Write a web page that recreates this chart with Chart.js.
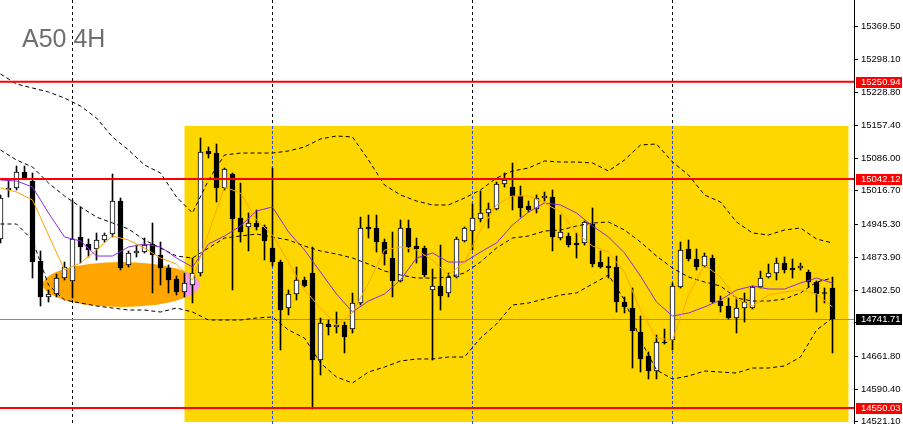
<!DOCTYPE html>
<html lang="en">
<head>
<meta charset="UTF-8">
<title>A50 4H</title>
<script src="https://cdn.jsdelivr.net/npm/chart.js"></script>
<style>
  html, body { margin: 0; padding: 0; background: #fff; }
  .chart-container { position: relative; width: 903px; height: 424px; }
</style>
</head>
<body>
<div class="chart-container"><canvas id="a50Chart" width="903" height="424"></canvas></div>
<script>
// 4H bars, oldest first
const opens = [
  14913.2, 15018.5, 15022.7, 15057.1, 15037.8, 14865.9, 14788.6, 14795.0, 14829.3, 14822.9,
  14917.5, 14902.4, 14891.7, 14911.0, 14923.9, 14994.8, 14857.3, 14883.1, 14885.2, 14902.4,
  14878.8, 14850.8, 14827.2, 14799.3, 14814.4, 14840.1, 15102.3, 15097.9, 15022.7, 15052.8,
  14958.3, 14939.0, 14947.6, 14939.0, 14893.8, 14863.7, 14764.9, 14795.0, 14825.1, 14840.1,
  14653.2, 14730.5, 14724.1, 14728.4, 14719.8, 14775.7, 14939.0, 14936.8, 14906.7, 14872.3,
  14822.9, 14936.8, 14898.1, 14893.8, 14803.6, 14812.2, 14797.2, 14831.5, 14908.9, 14930.4,
  14956.2, 14969.1, 14977.6, 15031.3, 15024.9, 15005.6, 14984.1, 14977.6, 15001.3, 15003.5,
  14915.3, 14919.6, 14904.6, 14904.6, 14945.4, 14863.7, 14855.1, 14853.0, 14777.8, 14764.9,
  14713.3, 14661.8, 14629.5, 14691.8, 14696.1, 14810.1, 14891.7, 14870.2, 14855.1, 14872.3,
  14780.0, 14769.2, 14743.4, 14764.9, 14764.9, 14810.1, 14831.5, 14840.1, 14861.6, 14850.8,
  14850.8, 14842.2, 14820.8, 14797.2, 14807.9
];
const highs = [
  15007.8, 15039.9, 15070.0, 15070.0, 15055.0, 14887.4, 14803.6, 14837.9, 14863.7, 14997.0,
  14982.0, 14913.2, 14926.1, 14926.1, 15052.8, 15001.3, 14887.4, 14900.3, 14915.3, 14947.6,
  14906.7, 14857.3, 14833.6, 14840.1, 14872.3, 15130.2, 15110.9, 15117.3, 15065.7, 15055.0,
  15033.5, 14969.1, 14975.5, 14943.3, 15065.7, 14868.0, 14803.6, 14853.0, 14831.5, 14896.0,
  14743.4, 14739.1, 14756.3, 14734.8, 14797.2, 14960.4, 14964.8, 14964.8, 14913.2, 14928.2,
  14954.0, 14954.0, 14915.3, 14898.1, 14848.7, 14900.3, 14840.1, 14917.5, 14939.0, 14988.4,
  15016.3, 14990.5, 15035.6, 15055.0, 15076.5, 15027.0, 14994.8, 15007.8, 15014.1, 15018.5,
  14964.8, 14926.1, 14926.1, 14951.8, 14979.8, 14887.4, 14874.5, 14876.6, 14788.6, 14807.9,
  14747.7, 14670.4, 14706.9, 14719.8, 14818.6, 14906.7, 14911.0, 14891.7, 14883.1, 14878.8,
  14790.7, 14786.4, 14786.4, 14797.2, 14812.2, 14844.4, 14859.4, 14872.3, 14874.5, 14870.2,
  14861.6, 14846.5, 14822.9, 14807.9, 14831.5
];
const lows = [
  14904.6, 15003.5, 15018.5, 15042.1, 14829.3, 14769.2, 14777.8, 14788.6, 14825.1, 14786.4,
  14861.6, 14874.5, 14868.0, 14906.7, 14917.5, 14846.5, 14853.0, 14874.5, 14883.1, 14797.2,
  14814.4, 14797.2, 14792.9, 14788.6, 14775.7, 14833.6, 15087.2, 14992.7, 15018.5, 14803.6,
  14906.7, 14887.4, 14932.5, 14868.0, 14855.1, 14674.7, 14749.9, 14782.1, 14810.1, 14547.9,
  14621.0, 14706.9, 14711.2, 14668.2, 14711.2, 14771.4, 14915.3, 14885.2, 14857.3, 14788.6,
  14820.8, 14885.2, 14861.6, 14831.5, 14653.2, 14760.6, 14788.6, 14829.3, 14906.7, 14889.5,
  14949.7, 14936.8, 14975.5, 15024.9, 14975.5, 14960.4, 14971.2, 14969.1, 14994.8, 14887.4,
  14911.0, 14896.0, 14872.3, 14900.3, 14853.0, 14850.8, 14829.3, 14756.3, 14754.2, 14636.0,
  14627.4, 14612.4, 14612.4, 14687.5, 14674.7, 14807.9, 14865.9, 14846.5, 14853.0, 14775.7,
  14756.3, 14741.3, 14711.2, 14734.8, 14762.8, 14807.9, 14829.3, 14825.1, 14840.1, 14829.3,
  14846.5, 14810.1, 14756.3, 14775.7, 14668.2
];
const closes = [
  15001.3, 15022.7, 15057.1, 15044.2, 14863.7, 14788.6, 14795.0, 14829.3, 14853.0, 14913.2,
  14896.0, 14889.5, 14911.0, 14921.8, 14994.8, 14850.8, 14883.1, 14887.4, 14900.3, 14878.8,
  14850.8, 14825.1, 14799.3, 14818.7, 14840.1, 15100.1, 15095.8, 15022.7, 15063.6, 14956.2,
  14928.2, 14947.6, 14939.0, 14908.9, 14863.7, 14760.6, 14795.0, 14825.1, 14812.2, 14653.2,
  14732.7, 14724.1, 14728.4, 14702.6, 14775.7, 14936.8, 14934.7, 14906.7, 14881.0, 14822.9,
  14936.8, 14896.0, 14891.7, 14835.8, 14812.2, 14790.7, 14831.5, 14913.2, 14936.8, 14958.3,
  14969.1, 14977.6, 15031.3, 15039.9, 15005.6, 14979.8, 14975.5, 15001.3, 15005.6, 14917.5,
  14928.2, 14900.3, 14900.3, 14949.7, 14859.4, 14853.0, 14850.8, 14777.8, 14767.1, 14715.5,
  14655.4, 14629.5, 14691.8, 14689.7, 14812.2, 14889.5, 14870.2, 14853.0, 14876.6, 14777.8,
  14769.2, 14743.4, 14764.9, 14777.8, 14810.1, 14829.3, 14840.1, 14861.6, 14846.5, 14846.5,
  14855.1, 14820.8, 14795.0, 14796.0, 14741.71
];

// indicator values read every 2nd bar, starting at bar 0
const lineStep = 2;
const bbUpper = [
  15267.7, 15246.2, 15237.6, 15229.0, 15216.1, 15198.9, 15173.1, 15132.4, 15104.4, 15072.2,
  15055.0, 15003.5, 14969.1, 15039.9, 15093.7, 15097.9, 15097.9, 15097.9, 15102.3, 15110.9,
  15128.1, 15134.5, 15132.4, 15082.9, 15029.2, 15007.8, 14994.8, 14986.3, 14986.3, 15001.3,
  15018.5, 15044.2, 15059.3, 15065.7, 15080.8, 15078.6, 15078.6, 15076.5, 15059.3, 15082.9,
  15115.2, 15117.3, 15078.6, 15050.7, 15007.8, 14992.7, 14949.7, 14926.1, 14921.8, 14932.5,
  14936.8, 14913.2, 14904.6
];
const bbMiddle = [
  15104.4, 15082.9, 15067.9, 15033.5, 15005.6, 14982.0, 14960.4, 14947.6, 14934.7, 14911.0,
  14893.8, 14876.6, 14872.3, 14893.8, 14915.3, 14919.6, 14923.9, 14917.5, 14911.0, 14898.1,
  14887.4, 14880.9, 14872.3, 14859.4, 14844.4, 14835.8, 14829.3, 14829.3, 14831.5, 14840.1,
  14863.7, 14893.8, 14915.3, 14919.6, 14930.4, 14932.5, 14941.1, 14947.6, 14949.7, 14932.5,
  14906.7, 14876.6, 14850.8, 14831.5, 14820.8, 14812.2, 14786.4, 14780.0, 14780.0, 14784.3,
  14797.2, 14820.8, 14829.3
];
const bbLower = [
  14945.4, 14945.4, 14911.0, 14814.4, 14782.1, 14775.7, 14769.2, 14764.9, 14760.6, 14760.6,
  14756.3, 14764.9, 14756.3, 14739.1, 14739.1, 14739.1, 14743.4, 14745.6, 14717.6, 14700.4,
  14646.8, 14616.6, 14603.8, 14627.4, 14638.1, 14651.0, 14655.4, 14655.4, 14659.6, 14659.6,
  14700.4, 14730.5, 14771.4, 14775.7, 14784.3, 14792.9, 14797.2, 14816.5, 14835.8, 14782.1,
  14696.1, 14631.7, 14612.4, 14618.8, 14629.5, 14627.4, 14625.2, 14636.0, 14636.0, 14640.3,
  14659.6, 14717.6, 14743.4
];
const maSlow = [
  15039.9, 15037.8, 15024.9, 14969.1, 14917.5, 14908.9, 14876.6, 14876.6, 14896.0, 14902.4,
  14896.0, 14872.3, 14853.0, 14902.4, 14919.6, 14941.1, 14973.4, 14982.0, 14928.2, 14889.5,
  14842.2, 14795.0, 14756.3, 14780.0, 14795.0, 14825.1, 14872.3, 14883.1, 14863.7, 14863.7,
  14885.2, 14904.6, 14943.3, 14971.2, 14990.5, 14986.3, 14969.1, 14941.1, 14917.5, 14883.1,
  14833.6, 14777.8, 14747.7, 14754.2, 14767.1, 14782.1, 14803.6, 14812.2, 14805.7, 14805.7,
  14818.6, 14829.3, 14818.6
];
const maFast = [
  15022.7, 15014.2, 14997.0, 14921.8, 14846.5, 14861.6, 14889.5, 14919.6, 14911.0, 14893.8,
  14872.3, 14859.4, 14825.1, 14926.1, 15024.9, 15012.0, 14954.0, 14921.8, 14863.7, 14803.6,
  14764.9, 14728.4, 14754.2, 14818.6, 14889.5, 14896.0, 14889.5, 14868.0, 14835.8, 14863.7,
  14932.5, 14986.3, 15005.6, 15005.6, 14990.5, 14971.2, 14926.1, 14898.1, 14885.2, 14842.2,
  14760.6, 14700.4, 14696.1, 14792.9, 14857.3, 14831.5, 14784.3, 14769.2, 14792.9, 14799.3,
  14803.6, 14795.0, 14767.1
];

const tickLabels = ['15369.50', '15298.10', '15228.80', '15157.40', '15086.00', '15016.70', '14945.30',
  '14873.90', '14802.50', '14733.10', '14661.80', '14590.40', '14521.10'];
const levels = [15250.94, 15042.12, 14550.03];
const bidPrice = 14741.71;
const separatorBars = [9, 34, 59, 84];
const zoneBars = [23, 106];
const zonePrices = [15156.0, 14519.9];
const ellipseBars = [5.3, 24.9];
const ellipsePrices = [14863.7, 14767.1];

const xMin = -0.0625, xMax = 106.6875;
const yMin = 14515.7, yMax = 15426.7;
const fontFamily = '"Liberation Sans", Arial, sans-serif';

const toPoints = arr => arr.map((v, i) => ({x: i * lineStep, y: v}));
const band = (data, order) => ({
  type: 'line', data: toPoints(data), borderColor: '#000', borderWidth: 1,
  borderDash: [4, 3], pointRadius: 0, tension: 0, order
});

function vline(ctx, px, y1, y2, color, dash) {
  ctx.beginPath();
  ctx.setLineDash(dash);
  ctx.strokeStyle = color;
  ctx.moveTo(px, y1);
  ctx.lineTo(px, y2);
  ctx.stroke();
}

const overlays = {
  id: 'overlays',
  beforeDatasetsDraw(chart) {
    const {ctx, chartArea: a, scales: {x, y}} = chart;
    ctx.save();
    ctx.beginPath();
    ctx.rect(a.left, a.top, a.right - a.left, a.bottom - a.top);
    ctx.clip();

    const zx1 = x.getPixelForValue(zoneBars[0]), zx2 = x.getPixelForValue(zoneBars[1]);
    const zy1 = y.getPixelForValue(zonePrices[0]), zy2 = y.getPixelForValue(zonePrices[1]);
    ctx.fillStyle = '#FFD700';
    ctx.fillRect(zx1, zy1, zx2 - zx1, zy2 - zy1);

    const ex1 = x.getPixelForValue(ellipseBars[0]), ex2 = x.getPixelForValue(ellipseBars[1]);
    const ey1 = y.getPixelForValue(ellipsePrices[0]), ey2 = y.getPixelForValue(ellipsePrices[1]);
    const drawEllipse = () => {
      ctx.beginPath();
      ctx.ellipse((ex1 + ex2) / 2, (ey1 + ey2) / 2, (ex2 - ex1) / 2, (ey2 - ey1) / 2, 0, 0, Math.PI * 2);
    };
    drawEllipse();
    ctx.fillStyle = '#FFA500';
    ctx.fill();
    // where the ellipse sits on the zone it shows pink
    ctx.save();
    ctx.beginPath();
    ctx.rect(zx1, zy1, zx2 - zx1, zy2 - zy1);
    ctx.clip();
    drawEllipse();
    ctx.fillStyle = '#F79CF2';
    ctx.fill();
    ctx.restore();

    ctx.lineWidth = 1;
    separatorBars.forEach(b => {
      const px = Math.floor(x.getPixelForValue(b)) + 0.5;
      const inZone = px >= zx1 && px <= zx2;
      if (inZone) {
        vline(ctx, px, a.top, zy1, '#000', [3, 3]);
        vline(ctx, px, zy1, a.bottom, '#1E4BFF', [3, 2]);
      } else {
        vline(ctx, px, a.top, a.bottom, '#000', [3, 3]);
      }
    });

    ctx.setLineDash([]);
    const by = Math.round(y.getPixelForValue(bidPrice)) + 0.5;
    ctx.strokeStyle = '#8C8C8C';
    ctx.beginPath();
    ctx.moveTo(a.left, by);
    ctx.lineTo(a.right, by);
    ctx.stroke();
    ctx.restore();
  },
  afterDraw(chart) {
    const {ctx, chartArea: a, scales: {y}} = chart;
    ctx.save();
    ctx.font = '25px ' + fontFamily;
    ctx.fillStyle = '#6E6E6E';
    ctx.textBaseline = 'alphabetic';
    ctx.fillText('A50 4H', 22, 47);

    ctx.font = '9.5px ' + fontFamily;
    ctx.textBaseline = 'middle';
    const tags = levels.map(v => ({v, bg: '#FF0000'})).concat([{v: bidPrice, bg: '#000'}]);
    tags.forEach(t => {
      const py = Math.round(y.getPixelForValue(t.v));
      ctx.fillStyle = t.bg;
      ctx.fillRect(a.right + 2, py - 5, 46, 11);
      ctx.fillStyle = '#fff';
      ctx.fillText(t.v.toFixed(2), a.right + 7, py + 0.5);
    });
    ctx.restore();
  }
};

const ctx = document.getElementById('a50Chart').getContext('2d');
new Chart(ctx, {
  type: 'bar',
  data: {
    datasets: [
      {
        type: 'line', data: [{x: xMin, y: levels[0]}, {x: xMax, y: levels[0]}],
        borderColor: '#FF0000', borderWidth: 2, pointRadius: 0, order: 0
      },
      {
        type: 'line', data: [{x: xMin, y: levels[1]}, {x: xMax, y: levels[1]}],
        borderColor: '#FF0000', borderWidth: 2, pointRadius: 0, order: 0
      },
      {
        type: 'line', data: [{x: xMin, y: levels[2]}, {x: xMax, y: levels[2]}],
        borderColor: '#FF0000', borderWidth: 2, pointRadius: 0, order: 0
      },
      {
        type: 'line', data: toPoints(maFast), borderColor: '#FFA500', borderWidth: 1,
        pointRadius: 0, tension: 0, order: 1
      },
      {
        type: 'line', data: toPoints(maSlow), borderColor: '#8A2BE2', borderWidth: 1,
        pointRadius: 0, tension: 0, order: 2
      },
      band(bbUpper, 3),
      band(bbMiddle, 3),
      band(bbLower, 3),
      {
        // candle bodies
        data: closes.map((c, i) => ({x: i, y: [opens[i], c]})),
        backgroundColor: closes.map((c, i) => c >= opens[i] ? '#FFFFFF' : '#000000'),
        borderColor: '#000', borderWidth: 1, borderSkipped: false,
        barThickness: 5, minBarLength: 1, grouped: false, order: 10
      },
      {
        // wicks
        data: highs.map((h, i) => ({x: i, y: [lows[i], h]})),
        backgroundColor: '#000', borderWidth: 0,
        barThickness: 1, grouped: false, order: 11
      }
    ]
  },
  options: {
    responsive: false,
    animation: false,
    events: [],
    layout: { padding: 0 },
    plugins: { legend: { display: false }, tooltip: { enabled: false } },
    scales: {
      x: { type: 'linear', min: xMin, max: xMax, display: false, offset: false },
      y: {
        position: 'right',
        min: yMin,
        max: yMax,
        afterBuildTicks: s => { s.ticks = tickLabels.map(t => ({value: Number(t)})); },
        afterFit: s => { s.width = 49; s.paddingTop = 0; s.paddingBottom = 0; },
        ticks: {
          autoSkip: false,
          padding: 3,
          color: '#000',
          font: { family: fontFamily, size: 9.5 },
          callback: (v, i) => tickLabels[i]
        },
        grid: { drawOnChartArea: false, drawTicks: true, tickLength: 4, color: '#000' },
        border: { display: true, color: '#000', width: 1 }
      }
    }
  },
  plugins: [overlays]
});
</script>
</body>
</html>
